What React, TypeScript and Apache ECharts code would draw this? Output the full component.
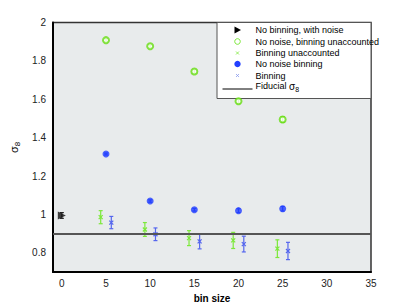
import React, { useEffect, useRef } from "react";
import * as echarts from "echarts";

const binSizes = [5, 10, 15, 20, 25];
const noBinNoise = { x: 0, y: 0.995, err: 0.015 };
const noNoiseUnaccounted = [1.908, 1.876, 1.745, 1.59, 1.495];
const noNoiseUnaccountedErr = [0.008, 0.007, 0.01, 0.012, 0.015];
const noNoiseBinning = [1.315, 1.07, 1.025, 1.02, 1.03];
const noNoiseBinningErr = [0.005, 0.006, 0.007, 0.01, 0.012];
const unaccX = [4.4, 9.4, 14.4, 19.4, 24.4];
const unaccY = [0.986, 0.922, 0.877, 0.865, 0.822];
const unaccErr = [0.034, 0.036, 0.039, 0.042, 0.046];
const binX = [5.6, 10.6, 15.6, 20.6, 25.6];
const binY = [0.958, 0.897, 0.86, 0.846, 0.81];
const binErr = [0.032, 0.033, 0.039, 0.041, 0.045];
const fiducial = 0.9;

const GREEN = "#66dd11";
const GREEN_L = "#7ce83a";
const BLUE = "#2340ff";
const BLUE_L = "#5566ee";
const FONT = "Liberation Sans";

function errRender(cross: boolean, color: string) {
  return (params: any, api: any) => {
    const x = api.value(0);
    const y = api.value(1);
    const e = api.value(2);
    const c = api.coord([x, y]);
    const hi = api.coord([x, y + e]);
    const lo = api.coord([x, y - e]);
    const cw = 2;
    const st = { stroke: color, lineWidth: 1.2 };
    const children: any[] = [
      { type: "line", shape: { x1: c[0], y1: hi[1], x2: c[0], y2: lo[1] }, style: st },
      { type: "line", shape: { x1: c[0] - cw, y1: hi[1], x2: c[0] + cw, y2: hi[1] }, style: st },
      { type: "line", shape: { x1: c[0] - cw, y1: lo[1], x2: c[0] + cw, y2: lo[1] }, style: st },
    ];
    if (cross) {
      const s = 2;
      children.push(
        { type: "line", shape: { x1: c[0] - s, y1: c[1] - s, x2: c[0] + s, y2: c[1] + s }, style: st },
        { type: "line", shape: { x1: c[0] - s, y1: c[1] + s, x2: c[0] + s, y2: c[1] - s }, style: st }
      );
    }
    return { type: "group", children };
  };
}

export default function App() {
  const ref = useRef<HTMLDivElement>(null);
  useEffect(() => {
    const chart = echarts.init(ref.current!, null, { renderer: "svg" });
    const lx = 217;
    const ly = 22.5;
    const mx = 237.5;
    const tx = 255.5;
    const rows = [30, 41.5, 53, 64, 75.5, 86];
    const texts = [
      "No binning, with noise",
      "No noise, binning unaccounted",
      "Binning unaccounted",
      "No noise binning",
      "Binning",
    ];
    const legendEls: any[] = [
      { type: "rect", shape: { x: lx, y: ly, width: 154, height: 76 }, style: { fill: "#fff", stroke: "#555", lineWidth: 1 } },
      { type: "polygon", shape: { points: [[mx - 3, rows[0] - 3.5], [mx + 3.5, rows[0]], [mx - 3, rows[0] + 3.5]] }, style: { fill: "#000" } },
      { type: "circle", shape: { cx: mx, cy: rows[1], r: 2.8 }, style: { fill: "none", stroke: GREEN_L, lineWidth: 1 } },
      { type: "line", shape: { x1: mx - 1.5, y1: rows[2] - 1.5, x2: mx + 1.5, y2: rows[2] + 1.5 }, style: { stroke: GREEN_L, lineWidth: 0.8 } },
      { type: "line", shape: { x1: mx - 1.5, y1: rows[2] + 1.5, x2: mx + 1.5, y2: rows[2] - 1.5 }, style: { stroke: GREEN_L, lineWidth: 0.8 } },
      { type: "circle", shape: { cx: mx, cy: rows[3], r: 3.2 }, style: { fill: BLUE } },
      { type: "line", shape: { x1: mx - 1.5, y1: rows[4] - 1.5, x2: mx + 1.5, y2: rows[4] + 1.5 }, style: { stroke: "#8899ee", lineWidth: 0.8 } },
      { type: "line", shape: { x1: mx - 1.5, y1: rows[4] + 1.5, x2: mx + 1.5, y2: rows[4] - 1.5 }, style: { stroke: "#8899ee", lineWidth: 0.8 } },
      { type: "line", shape: { x1: 222.5, y1: 89, x2: 252.5, y2: 89 }, style: { stroke: "#000", lineWidth: 1 } },
    ];
    texts.forEach((t, i) => {
      legendEls.push({
        type: "text",
        x: tx,
        y: rows[i],
        style: { text: t, fill: "#000", font: `9px '${FONT}'`, textVerticalAlign: "middle", textAlign: "left" },
      });
    });
    legendEls.push({
      type: "text",
      x: tx,
      y: rows[5],
      style: {
        text: "{a|Fiducial }{b|σ}{c|8}",
        textVerticalAlign: "middle",
        rich: {
          a: { fontFamily: FONT, fontSize: 9, color: "#000" },
          b: { fontFamily: FONT, fontSize: 10, color: "#000" },
          c: { fontFamily: FONT, fontSize: 7, color: "#000", padding: [6, 0, 0, 0] },
        },
      },
    });

    chart.setOption({
      animation: false,
      backgroundColor: "#fff",
      grid: {
        left: 53,
        right: 38,
        top: 22.5,
        bottom: 35,
        show: true,
        backgroundColor: "#e8ebec",
        borderColor: "#333",
        borderWidth: 1.5,
      },
      xAxis: {
        type: "value",
        min: -1,
        max: 35,
        interval: 1,
        name: "bin size",
        nameLocation: "middle",
        nameGap: 19,
        nameTextStyle: { fontFamily: FONT, fontSize: 10, fontWeight: "bold", color: "#000" },
        axisLine: { show: true, onZero: false, lineStyle: { color: "#000", width: 2 } },
        axisTick: { show: false },
        splitLine: { show: false },
        axisLabel: {
          fontFamily: FONT,
          fontSize: 10,
          color: "#222",
          margin: 6,
          formatter: (v: number) => (Math.round(v) % 5 === 0 && v >= 0 ? String(Math.round(v)) : ""),
        },
      },
      yAxis: {
        type: "value",
        min: 0.7,
        max: 2.0,
        interval: 0.1,
        name: "{a|σ}{b|8}",
        nameLocation: "middle",
        nameRotate: 90,
        nameGap: 33,
        nameTextStyle: {
          rich: {
            a: { fontFamily: FONT, fontSize: 11, color: "#000" },
            b: { fontFamily: FONT, fontSize: 8, color: "#000", padding: [0, 0, -6, 0] },
          },
        },
        axisLine: { show: true, onZero: false, lineStyle: { color: "#000", width: 2 } },
        axisTick: { show: false },
        splitLine: { show: false },
        axisLabel: {
          fontFamily: FONT,
          fontSize: 10,
          color: "#222",
          margin: 7,
          formatter: (v: number) => {
            const k = Math.round(v * 10);
            return k % 2 === 0 && k >= 8 ? String(k / 10) : "";
          },
        },
      },
      series: [
        {
          type: "custom",
          renderItem: errRender(false, "#222"),
          data: [[noBinNoise.x, noBinNoise.y, noBinNoise.err]],
          z: 3,
        },
        {
          type: "scatter",
          symbol: "triangle",
          symbolRotate: -90,
          symbolSize: 8,
          itemStyle: { color: "#111" },
          data: [[noBinNoise.x, noBinNoise.y]],
          z: 4,
          markLine: {
            silent: true,
            symbol: "none",
            label: { show: false },
            lineStyle: { color: "#555", width: 2, type: "solid" },
            data: [{ yAxis: fiducial }],
          },
        },
        {
          type: "custom",
          renderItem: errRender(false, GREEN),
          data: binSizes.map((b, i) => [b, noNoiseUnaccounted[i], noNoiseUnaccountedErr[i]]),
          z: 3,
        },
        {
          type: "scatter",
          symbol: "emptyCircle",
          symbolSize: 6,
          itemStyle: { color: GREEN, borderColor: GREEN, borderWidth: 2 },
          data: binSizes.map((b, i) => [b, noNoiseUnaccounted[i]]),
          z: 4,
        },
        {
          type: "custom",
          renderItem: errRender(true, GREEN_L),
          data: unaccX.map((x, i) => [x, unaccY[i], unaccErr[i]]),
          z: 3,
        },
        {
          type: "custom",
          renderItem: errRender(false, BLUE),
          data: binSizes.map((b, i) => [b, noNoiseBinning[i], noNoiseBinningErr[i]]),
          z: 3,
        },
        {
          type: "scatter",
          symbol: "circle",
          symbolSize: 7,
          itemStyle: { color: BLUE },
          data: binSizes.map((b, i) => [b, noNoiseBinning[i]]),
          z: 4,
        },
        {
          type: "custom",
          renderItem: errRender(true, BLUE_L),
          data: binX.map((x, i) => [x, binY[i], binErr[i]]),
          z: 3,
        },
      ],
      graphic: { elements: legendEls },
    });
    return () => chart.dispose();
  }, []);
  return (
    <div
      ref={ref}
      style={{ position: "fixed", left: 0, top: 0, width: 409, height: 308, background: "#fff" }}
    />
  );
}
